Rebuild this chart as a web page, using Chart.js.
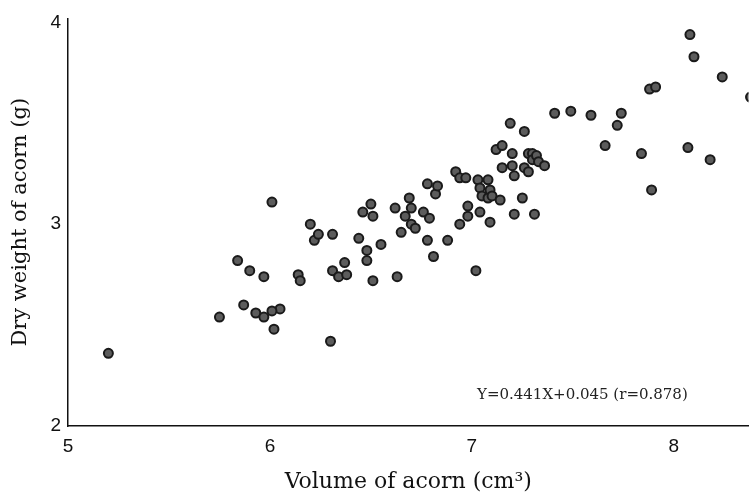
<!DOCTYPE html>
<html>
<head>
<meta charset="utf-8">
<script src="https://cdn.jsdelivr.net/npm/chart.js@4.4.1/dist/chart.umd.min.js"></script>
<style>
    html, body { margin: 0; padding: 0; background: #fff; }
    #wrap { width: 755px; height: 498px; }
</style>
</head>
<body>
<div id="wrap"><canvas id="acornChart" width="755" height="498"></canvas></div>
<script>
// acorn volume (cm3) and dry weight (g)
const volume = [
    5.20, 5.75, 5.84, 5.87, 5.90, 5.93, 5.97, 5.97, 6.01, 6.02, 6.05, 6.01,
    6.14, 6.15, 6.20, 6.22, 6.24, 6.30, 6.31, 6.31, 6.34, 6.37, 6.38, 6.44,
    6.46, 6.48, 6.48, 6.50, 6.51, 6.51, 6.55, 6.62, 6.63, 6.65, 6.67, 6.69,
    6.70, 6.70, 6.72, 6.76, 6.78, 6.78, 6.79, 6.81, 6.82, 6.83, 6.88, 6.92,
    6.94, 6.94, 6.97, 6.98, 6.98, 7.02, 7.03, 7.04, 7.04, 7.05, 7.08, 7.08,
    7.09, 7.09, 7.10, 7.12, 7.14, 7.15, 7.15, 7.19, 7.20, 7.20, 7.21, 7.21,
    7.25, 7.26, 7.26, 7.28, 7.28, 7.30, 7.30, 7.31, 7.32, 7.33, 7.36, 7.41,
    7.49, 7.59, 7.66, 7.72, 7.74, 7.84, 7.88, 7.89, 7.91, 8.07, 8.08, 8.10,
    8.18, 8.24, 8.38
];
const weight = [
    2.36, 2.54, 2.82, 2.60, 2.77, 2.56, 2.74, 2.54, 3.11, 2.48, 2.58, 2.57,
    2.75, 2.72, 3.00, 2.92, 2.95, 2.42, 2.95, 2.77, 2.74, 2.81, 2.75, 2.93,
    3.06, 2.87, 2.82, 3.10, 3.04, 2.72, 2.90, 3.08, 2.74, 2.96, 3.04, 3.13,
    3.08, 3.00, 2.98, 3.06, 3.20, 2.92, 3.03, 2.84, 3.15, 3.19, 2.92, 3.26,
    3.23, 3.00, 3.23, 3.09, 3.04, 2.77, 3.22, 3.18, 3.06, 3.14, 3.22, 3.13,
    3.17, 3.01, 3.14, 3.37, 3.12, 3.39, 3.28, 3.50, 3.35, 3.29, 3.24, 3.05,
    3.13, 3.46, 3.28, 3.35, 3.26, 3.35, 3.32, 3.05, 3.34, 3.31, 3.29, 3.55,
    3.56, 3.54, 3.39, 3.49, 3.55, 3.35, 3.67, 3.17, 3.68, 3.38, 3.94, 3.83,
    3.32, 3.73, 3.63
];
const xTicks = [5, 6, 7, 8];
const yTicks = [2, 3, 4];
const equationText = "Y=0.441X+0.045 (r=0.878)";

const points = volume.map((v, i) => ({ x: v, y: weight[i] }));

// regression note in the lower right of the plot
const equationLabel = {
    id: "equationLabel",
    afterDatasetsDraw(chart) {
        const c = chart.ctx;
        c.save();
        c.font = "15px 'DejaVu Serif'";
        c.fillStyle = "#222";
        c.textAlign = "left";
        c.textBaseline = "middle";
        c.fillText(equationText, 477, 395);
        c.restore();
    },
};

const ctx = document.getElementById("acornChart").getContext("2d");
new Chart(ctx, {
    type: "scatter",
    data: {
        datasets: [
            {
                data: points,
                pointRadius: 4.5,
                pointBorderWidth: 2,
                pointBackgroundColor: "#5c5c5c",
                pointBorderColor: "#1a1a1a",
            },
        ],
    },
    options: {
        responsive: false,
        animation: false,
        layout: { padding: { top: 17, right: 0, left: 0, bottom: 0 } },
        plugins: {
            legend: { display: false },
            tooltip: { enabled: false },
        },
        scales: {
            x: {
                type: "linear",
                min: 5,
                max: 8.37,
                afterBuildTicks: (scale) => {
                    scale.ticks = xTicks.map((v) => ({ value: v }));
                },
                afterFit: (scale) => {
                    scale.height = 72;
                },
                grid: { display: false, drawTicks: false },
                border: { color: "#111", width: 1.5 },
                ticks: {
                    padding: 9,
                    color: "#111",
                    font: { family: "'Liberation Sans'", size: 19 },
                },
                title: {
                    display: true,
                    text: "Volume of acorn (cm³)",
                    color: "#111",
                    font: { family: "'DejaVu Serif'", size: 22 },
                    padding: { top: 0, bottom: 3 },
                },
            },
            y: {
                type: "linear",
                min: 2,
                max: 4.02,
                afterBuildTicks: (scale) => {
                    scale.ticks = yTicks.map((v) => ({ value: v }));
                },
                afterFit: (scale) => {
                    scale.width = 68;
                },
                grid: { display: false, drawTicks: false },
                border: { color: "#111", width: 1.5 },
                ticks: {
                    padding: 7,
                    color: "#111",
                    font: { family: "'Liberation Sans'", size: 19 },
                },
                title: {
                    display: true,
                    text: "Dry weight of acorn (g)",
                    color: "#111",
                    font: { family: "'DejaVu Serif'", size: 21 },
                    padding: { top: 8, bottom: 0 },
                },
            },
        },
    },
    plugins: [equationLabel],
});
</script>
</body>
</html>
